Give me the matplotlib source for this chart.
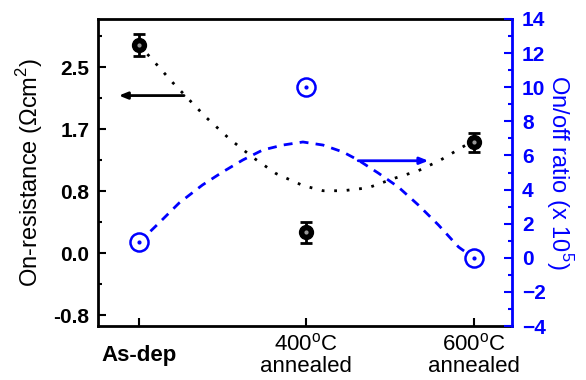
import matplotlib
matplotlib.use("Agg")
import matplotlib.pyplot as plt

plt.rcParams['font.family'] = ['Liberation Sans', 'DejaVu Sans']
plt.rcParams['mathtext.fontset'] = 'custom'
plt.rcParams['mathtext.rm'] = 'Liberation Sans'
plt.rcParams['mathtext.bf'] = 'Liberation Sans:bold'

# =======================
# data
# =======================
samples = [0, 1, 2]
sample_labels = ["As-dep", "400$^{\\mathrm{o}}$C\nannealed", "600$^{\\mathrm{o}}$C\nannealed"]

# on-resistance (left axis)
r_on = [2.80, 0.28, 1.49]
r_on_err = [0.15, 0.14, 0.13]

# on/off ratio x 1e5 (right axis)
onoff = [0.9, 10.0, 0.0]

# guide curves
black_fit_x = [0.0, 0.07, 0.20, 0.40, 0.54, 0.68, 0.82, 0.98, 1.10, 1.22, 1.37, 1.53, 1.67, 1.80, 1.95, 2.0]
black_fit_y = [2.80, 2.63, 2.30, 1.83, 1.54, 1.29, 1.07, 0.91, 0.84, 0.84, 0.88, 1.01, 1.11, 1.25, 1.45, 1.49]
blue_fit_x = [0.0, 0.12, 0.24, 0.38, 0.50, 0.62, 0.74, 0.86, 0.98, 1.10, 1.22, 1.31, 1.43, 1.55, 1.67, 1.79, 1.91, 2.0]
blue_fit_y = [0.9, 2.04, 3.21, 4.27, 5.03, 5.73, 6.32, 6.61, 6.79, 6.61, 6.20, 5.73, 4.97, 4.15, 3.09, 1.92, 0.63, 0.0]

left_ticks = [2.5, 5 / 3, 5 / 6, 0.0, -5 / 6]
left_labels = ["2.5", "1.7", "0.8", "0.0", "-0.8"]
left_minor = [35 / 12, 25 / 12, 15 / 12, 5 / 12, -5 / 12]
right_ticks = [-4, -2, 0, 2, 4, 6, 8, 10, 12, 14]
right_minor = [-3, -1, 1, 3, 5, 7, 9, 11, 13]

blue = "#0000ff"

fig = plt.figure(figsize=(5.86, 3.80), dpi=100)
ax = fig.add_axes([0.167, 0.142, 0.707, 0.808])
ax2 = ax.twinx()

# left axis: on-resistance
ax.plot(black_fit_x, black_fit_y, color="black", lw=2, ls=(0, (1, 3.5)), zorder=2)
ax.errorbar(samples, r_on, yerr=r_on_err, fmt="o", color="black", ms=10,
            capsize=4.5, elinewidth=2, capthick=2, zorder=3)
ax.plot(samples, r_on, "o", color="#9a9a9a", ms=2, zorder=4)
ax.set_yticks(left_ticks)
ax.set_yticklabels(left_labels)
ax.set_yticks(left_minor, minor=True)
ax.set_xticks(samples)
ax.set_xticklabels(sample_labels, fontsize=16, linespacing=1.05)
ax.set_xlim(-0.245, 2.23)
ax.set_ylim(-0.98, 3.15)
for lab in ax.get_xticklabels():
    lab.set_verticalalignment("center")
ax.get_xticklabels()[0].set_fontweight("bold")
ax.tick_params(axis="x", direction="in", length=6, width=1.5, pad=21, top=False)
ax.tick_params(axis="y", which="major", direction="in", length=6, width=1.5, labelsize=15, pad=6)
ax.tick_params(axis="y", which="minor", direction="in", length=3, width=1.5)
for lab in ax.get_yticklabels():
    lab.set_fontweight("bold")
ax.set_ylabel("On-resistance ($\\Omega$cm$^2$)", fontsize=17)
ax.yaxis.set_label_coords(-0.128, 0.5)
for s in ["left", "bottom", "top"]:
    ax.spines[s].set_linewidth(2)

# right axis: on/off ratio
ax2.plot(blue_fit_x, blue_fit_y, color=blue, lw=2, ls=(0, (3.2, 2.6)), zorder=2)
ax2.plot(samples, onoff, "o", mfc="white", mec=blue, mew=1.8, ms=13, zorder=3)
ax2.plot(samples, onoff, "o", color=blue, ms=2, zorder=4)
ax2.set_yticks(right_ticks)
ax2.set_yticks(right_minor, minor=True)
ax2.set_ylim(-4, 14)
ax2.tick_params(axis="y", which="major", direction="in", length=6, width=1.5,
                colors=blue, labelsize=15, pad=7)
ax2.tick_params(axis="y", which="minor", direction="in", length=3, width=1.5, colors=blue)
for lab in ax2.get_yticklabels():
    lab.set_fontweight("bold")
ax2.set_ylabel("On/off ratio (x 10$^5$)", fontsize=17, color=blue, rotation=270,
               va="bottom")
ax2.yaxis.set_label_coords(1.078, 0.5)
ax2.spines["right"].set_color(blue)
ax2.spines["right"].set_linewidth(2)
for s in ["left", "bottom", "top"]:
    ax2.spines[s].set_visible(False)

# arrows pointing at the axes
ax.annotate("", xy=(-0.12, 2.12), xytext=(0.27, 2.12),
            arrowprops=dict(arrowstyle="-|>,head_length=0.5,head_width=0.2",
                            color="black", lw=2, shrinkA=0, shrinkB=0))
ax2.annotate("", xy=(1.73, 5.69), xytext=(1.31, 5.69),
             arrowprops=dict(arrowstyle="-|>,head_length=0.5,head_width=0.2",
                             color=blue, lw=2, shrinkA=0, shrinkB=0))

plt.savefig("out.png", dpi=100)
